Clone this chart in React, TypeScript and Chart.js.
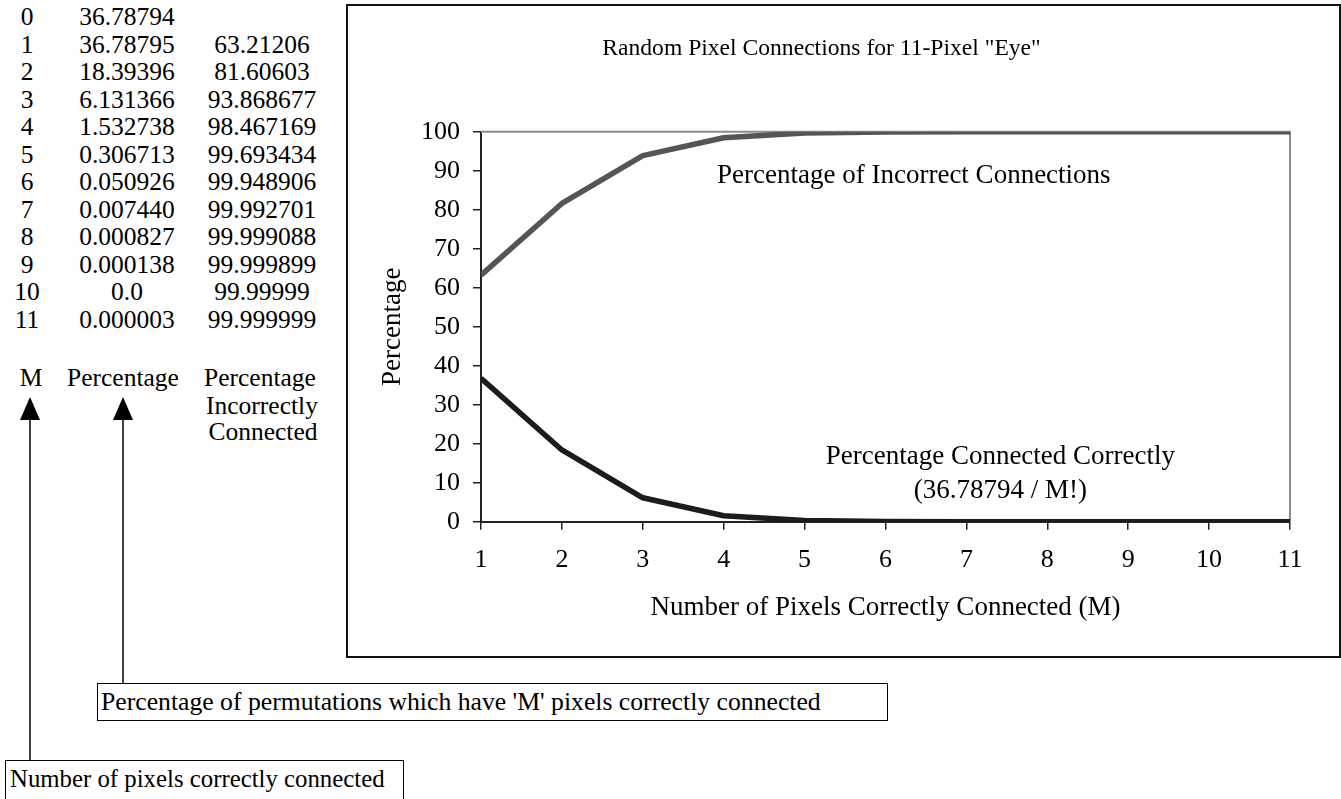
import React, { useEffect, useRef } from "react";
import { Chart, registerables } from "chart.js";

Chart.register(...registerables);

// ---- data ----
const M_VALUES = [1, 2, 3, 4, 5, 6, 7, 8, 9, 10, 11];
const PCT_CORRECT = [36.78795, 18.39396, 6.131366, 1.532738, 0.306713, 0.050926, 0.00744, 0.000827, 0.000138, 0.0, 0.000003];
const PCT_INCORRECT = [63.21206, 81.60603, 93.868677, 98.467169, 99.693434, 99.948906, 99.992701, 99.999088, 99.999899, 99.99999, 99.999999];
const X_TICKS = [1, 2, 3, 4, 5, 6, 7, 8, 9, 10, 11];
const Y_TICKS = [0, 10, 20, 30, 40, 50, 60, 70, 80, 90, 100];

const TABLE_M = ["0", "1", "2", "3", "4", "5", "6", "7", "8", "9", "10", "11"];
const TABLE_CORRECT = ["36.78794", "36.78795", "18.39396", "6.131366", "1.532738", "0.306713", "0.050926", "0.007440", "0.000827", "0.000138", "0.0", "0.000003"];
const TABLE_INCORRECT = ["", "63.21206", "81.60603", "93.868677", "98.467169", "99.693434", "99.948906", "99.992701", "99.999088", "99.999899", "99.99999", "99.999999"];

const TITLE = 'Random Pixel Connections for 11-Pixel "Eye"';
const X_TITLE = "Number of Pixels Correctly Connected (M)";
const Y_TITLE = "Percentage";
const NOTE_INCORRECT = ["Percentage of Incorrect Connections"];
const NOTE_CORRECT = ["Percentage Connected Correctly", "(36.78794 / M!)"];

const FONT = '"Liberation Serif", "Times New Roman", Times, serif';

const framePlugin = {
  id: "frame",
  beforeDatasetsDraw(chart: any) {
    const { ctx, chartArea } = chart;
    ctx.save();
    ctx.strokeStyle = "#8c8c8c";
    ctx.lineWidth = 2;
    ctx.beginPath();
    ctx.moveTo(chartArea.left, chartArea.top);
    ctx.lineTo(chartArea.right, chartArea.top);
    ctx.lineTo(chartArea.right, chartArea.bottom);
    ctx.stroke();
    ctx.restore();
  },
};

const notesPlugin = {
  id: "notes",
  afterDatasetsDraw(chart: any) {
    const { ctx, scales } = chart;
    ctx.save();
    ctx.fillStyle = "#000";
    ctx.font = `27px ${FONT}`;
    ctx.textAlign = "center";
    ctx.textBaseline = "middle";
    const draw = (lines: string[], x: number, y: number, step: number) => {
      lines.forEach((t, i) => {
        ctx.fillText(t, scales.x.getPixelForValue(x), scales.y.getPixelForValue(y - i * step));
      });
    };
    draw(NOTE_INCORRECT, 6.35, 88.6, 0);
    draw(NOTE_CORRECT, 7.42, 16.6, 8.6);
    ctx.restore();
  },
};

function ChartBox() {
  const ref = useRef<HTMLCanvasElement | null>(null);
  useEffect(() => {
    if (!ref.current) return;
    const tickFont = { family: FONT, size: 26, weight: "normal" as const, lineHeight: 1.2 };
    const axisFont = { family: FONT, size: 27, weight: "normal" as const, lineHeight: 1.2 };
    const titleFont = { family: FONT, size: 23.6, weight: "normal" as const, lineHeight: 1.2 };
    const chart = new Chart(ref.current, {
      type: "line",
      data: {
        datasets: [
          {
            label: "Percentage of Incorrect Connections",
            data: M_VALUES.map((m, i) => ({ x: m, y: PCT_INCORRECT[i] })),
            borderColor: "#555555",
            borderWidth: 5.5,
            pointRadius: 0,
            tension: 0,
            borderJoinStyle: "round",
            borderCapStyle: "butt",
          },
          {
            label: "Percentage Connected Correctly",
            data: M_VALUES.map((m, i) => ({ x: m, y: PCT_CORRECT[i] })),
            borderColor: "#1c1c1c",
            borderWidth: 5.5,
            pointRadius: 0,
            tension: 0,
            borderJoinStyle: "round",
            borderCapStyle: "butt",
          },
        ],
      },
      options: {
        responsive: false,
        animation: false,
        devicePixelRatio: 1,
        layout: { padding: { left: 5, right: 49, top: 0, bottom: 0 } },
        plugins: {
          legend: { display: false },
          tooltip: { enabled: false },
          title: {
            display: true,
            text: TITLE,
            color: "#000",
            font: titleFont,
            padding: { top: 28.9, bottom: 68.5 },
          },
        },
        scales: {
          x: {
            type: "linear",
            min: 1,
            max: 11,
            afterBuildTicks: (s: any) => {
              s.ticks = X_TICKS.map((v) => ({ value: v }));
            },
            afterFit: (s: any) => {
              s.height = 134.3;
            },
            ticks: { color: "#000", font: tickFont, padding: 14.7, maxRotation: 0, autoSkip: false },
            grid: { display: true, drawOnChartArea: false, drawTicks: true, tickLength: 8, color: "#222", lineWidth: 1.5 },
            border: { display: true, color: "#222", width: 2 },
            title: { display: true, text: X_TITLE, color: "#000", font: axisFont, padding: { top: 0, bottom: 31.8 } },
          },
          y: {
            type: "linear",
            min: 0,
            max: 100,
            afterBuildTicks: (s: any) => {
              s.ticks = Y_TICKS.map((v) => ({ value: v }));
            },
            afterFit: (s: any) => {
              s.width = 128;
            },
            ticks: { color: "#000", font: tickFont, padding: 13 },
            grid: { display: true, drawOnChartArea: false, drawTicks: true, tickLength: 8, color: "#222", lineWidth: 1.5 },
            border: { display: true, color: "#222", width: 2 },
            title: { display: true, text: Y_TITLE, color: "#000", font: axisFont, padding: { top: 23.8, bottom: 0 } },
          },
        },
      },
      plugins: [framePlugin, notesPlugin],
    } as any);
    return () => chart.destroy();
  }, []);
  return <canvas ref={ref} width={991} height={650} style={{ display: "block", width: 991, height: 650 }} />;
}

const ROW0 = 17;
const ROW_STEP = 27.5;
const LH = 28;

function Cell({ text, cx, cy, w }: { text: string; cx: number; cy: number; w: number }) {
  return (
    <div
      style={{
        position: "absolute",
        left: cx - w / 2,
        top: cy - LH / 2,
        width: w,
        height: LH,
        lineHeight: `${LH}px`,
        textAlign: "center",
        whiteSpace: "nowrap",
      }}
    >
      {text}
    </div>
  );
}

export default function App() {
  return (
    <div
      style={{
        position: "absolute",
        left: 0,
        top: 0,
        width: 1341,
        height: 799,
        overflow: "hidden",
        background: "#fff",
        fontFamily: FONT,
        fontSize: 25.5,
        color: "#000",
      }}
    >
      {TABLE_M.map((m, i) => (
        <React.Fragment key={m}>
          <Cell text={m} cx={27} cy={ROW0 + ROW_STEP * i} w={50} />
          <Cell text={TABLE_CORRECT[i]} cx={127} cy={ROW0 + ROW_STEP * i} w={120} />
          <Cell text={TABLE_INCORRECT[i]} cx={262} cy={ROW0 + ROW_STEP * i} w={130} />
        </React.Fragment>
      ))}
      <Cell text="M" cx={31} cy={378} w={40} />
      <Cell text="Percentage" cx={123} cy={378} w={130} />
      <Cell text="Percentage" cx={260} cy={378} w={130} />
      <Cell text="Incorrectly" cx={262} cy={406} w={130} />
      <Cell text="Connected" cx={263} cy={432} w={130} />

      <svg width={1341} height={799} style={{ position: "absolute", left: 0, top: 0 }}>
        <line x1={30} y1={418} x2={30} y2={760} stroke="#000" strokeWidth={1.5} />
        <polygon points="30,397 20,420 40,420" fill="#000" />
        <line x1={123} y1={418} x2={123} y2={683} stroke="#000" strokeWidth={1.5} />
        <polygon points="123,397 113,420 133,420" fill="#000" />
      </svg>

      <div
        style={{
          position: "absolute",
          left: 97,
          top: 683,
          width: 791,
          height: 38,
          boxSizing: "border-box",
          border: "1.5px solid #000",
          lineHeight: "35px",
          paddingLeft: 3,
          whiteSpace: "nowrap",
          background: "#fff",
          fontSize: 25.7,
        }}
      >
        Percentage of permutations which have 'M' pixels correctly connected
      </div>
      <div
        style={{
          position: "absolute",
          left: 5,
          top: 760,
          width: 399,
          height: 60,
          boxSizing: "border-box",
          border: "1.5px solid #000",
          lineHeight: "36px",
          paddingLeft: 4,
          whiteSpace: "nowrap",
          background: "#fff",
          fontSize: 24.8,
        }}
      >
        Number of pixels correctly connected
      </div>

      <div
        style={{
          position: "absolute",
          left: 346,
          top: 4,
          width: 991,
          height: 650,
          border: "2px solid #111",
          background: "#fff",
        }}
      >
        <ChartBox />
      </div>
    </div>
  );
}
